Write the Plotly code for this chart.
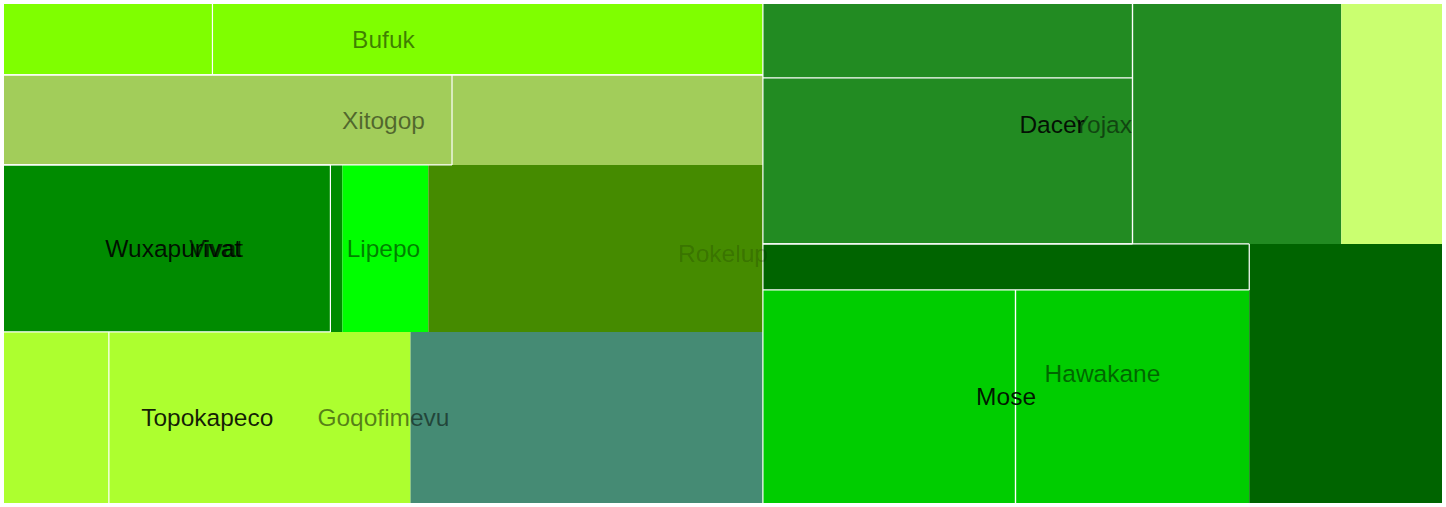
import plotly.graph_objects as go

# ---- hierarchy (DFS order gives child order) ----
node_ids = ["Rokelup", "colL", "Bufuk", "b1", "b2", "Xitogop", "x1", "x2",
            "Lipepo", "Vivat", "Wuxapurivat", "w1", "w2", "l1", "l2",
            "Goqofimevu", "Topokapeco", "t1", "t2", "g1",
            "colR", "Yojax", "Dacer", "dcol", "d1", "d2", "d3", "y1",
            "Hawakane", "hcol", "h1", "Mose", "m1", "m2", "h2"]
node_parents = ["", "Rokelup", "colL", "Bufuk", "Bufuk", "colL", "Xitogop", "Xitogop",
                "colL", "Lipepo", "Vivat", "Wuxapurivat", "Wuxapurivat", "Vivat", "Lipepo",
                "colL", "Goqofimevu", "Topokapeco", "Topokapeco", "Goqofimevu",
                "Rokelup", "colR", "Yojax", "Dacer", "dcol", "dcol", "Dacer", "Yojax",
                "colR", "Hawakane", "hcol", "hcol", "Mose", "Mose", "Hawakane"]
group_dirs = {"Rokelup": "h", "colL": "v", "colR": "v", "Bufuk": "h", "Xitogop": "h",
              "Lipepo": "h", "Vivat": "h", "Wuxapurivat": "h", "Goqofimevu": "h",
              "Topokapeco": "h", "Yojax": "h", "Dacer": "h", "dcol": "v",
              "Hawakane": "h", "hcol": "v", "Mose": "h"}

# ---- leaves ----
leaf_ids = ["b1", "b2", "x1", "x2", "w1", "w2", "l1", "l2", "t1", "t2", "g1",
            "d1", "d2", "d3", "y1", "h1", "m1", "m2", "h2"]
leaf_values = [20.6, 54.4, 56.2, 39.0, 76.0, 2.8, 20.0, 77.9, 25.0, 71.9, 84.0,
               38.1, 85.5, 69.8, 33.7, 31.2, 75.0, 69.4, 69.6]
leaf_colors = ["#7FFF00", "#7FFF00", "#A2CD5A", "#A2CD5A", "#008B00", "#008B00",
               "#00FF00", "#458B00", "#ADFF2F", "#ADFF2F", "#458B74",
               "#228B22", "#228B22", "#228B22", "#CAFF70",
               "#006400", "#00CD00", "#00CD00", "#006400"]
leaf_edges = ["rb", "b", "trb", "t", "trb", "", "", "", "r", "", "",
              "lrb", "lrb", "l", "", "ltrb", "lr", "l", ""]

# ---- labels ----
label_nodes = ["Rokelup", "Bufuk", "Xitogop", "Lipepo", "Goqofimevu", "Yojax", "Hawakane",
               "Wuxapurivat", "Vivat", "Topokapeco", "Dacer", "Mose"]
label_alpha = [0.18, 0.5, 0.5, 0.5, 0.5, 0.5, 0.5, 0.88, 0.7, 0.88, 0.88, 0.88]

W, H = 1446, 507
PAD = 4
FONT_SIZE = 24.5
TEXT_DY = 2.5

children = {}
for nid, par in zip(node_ids, node_parents):
    if par:
        children.setdefault(par, []).append(nid)
val = dict(zip(leaf_ids, leaf_values))


def total(n):
    if n in val:
        return val[n]
    return sum(total(c) for c in children[n])


rects = {}


def lay(n, x0, y0, x1, y1):
    rects[n] = (x0, y0, x1, y1)
    if n in val:
        return
    kids = children[n]
    s = sum(total(c) for c in kids)
    if group_dirs[n] == "h":
        cx = x0
        for c in kids:
            w = (x1 - x0) * total(c) / s
            lay(c, cx, y0, cx + w, y1)
            cx += w
    else:
        cy = y0
        for c in kids:
            h = (y1 - y0) * total(c) / s
            lay(c, x0, cy, x1, cy + h)
            cy += h


lay("Rokelup", PAD, PAD, W - PAD, H - PAD)

shapes = []
for lid, col in zip(leaf_ids, leaf_colors):
    x0, y0, x1, y1 = rects[lid]
    shapes.append(dict(type="rect", xref="x", yref="y", x0=x0, y0=y0, x1=x1, y1=y1,
                       fillcolor=col, line=dict(width=0), layer="below"))
for lid, e in zip(leaf_ids, leaf_edges):
    x0, y0, x1, y1 = rects[lid]
    segs = {"l": (x0, y0, x0, y1), "r": (x1, y0, x1, y1),
            "t": (x0, y0, x1, y0), "b": (x0, y1, x1, y1)}
    for k in e:
        a, b, c, d = segs[k]
        shapes.append(dict(type="line", xref="x", yref="y", x0=a, y0=b, x1=c, y1=d,
                           line=dict(color="white", width=1.2), layer="below"))

fig = go.Figure()
for ln, al in zip(label_nodes, label_alpha):
    x0, y0, x1, y1 = rects[ln]
    fig.add_trace(go.Scatter(x=[(x0 + x1) / 2], y=[(y0 + y1) / 2 + TEXT_DY], mode="text",
                             text=[ln], textposition="middle center",
                             textfont=dict(family="Liberation Sans, Arial, sans-serif",
                                           size=FONT_SIZE, color=f"rgba(0,0,0,{al})"),
                             hoverinfo="skip", showlegend=False))

fig.update_layout(width=W, height=H, margin=dict(l=0, r=0, t=0, b=0),
                  paper_bgcolor="white", plot_bgcolor="white", shapes=shapes,
                  showlegend=False,
                  xaxis=dict(range=[0, W], visible=False, fixedrange=True),
                  yaxis=dict(range=[H, 0], visible=False, fixedrange=True))
fig.write_html("out.html")
